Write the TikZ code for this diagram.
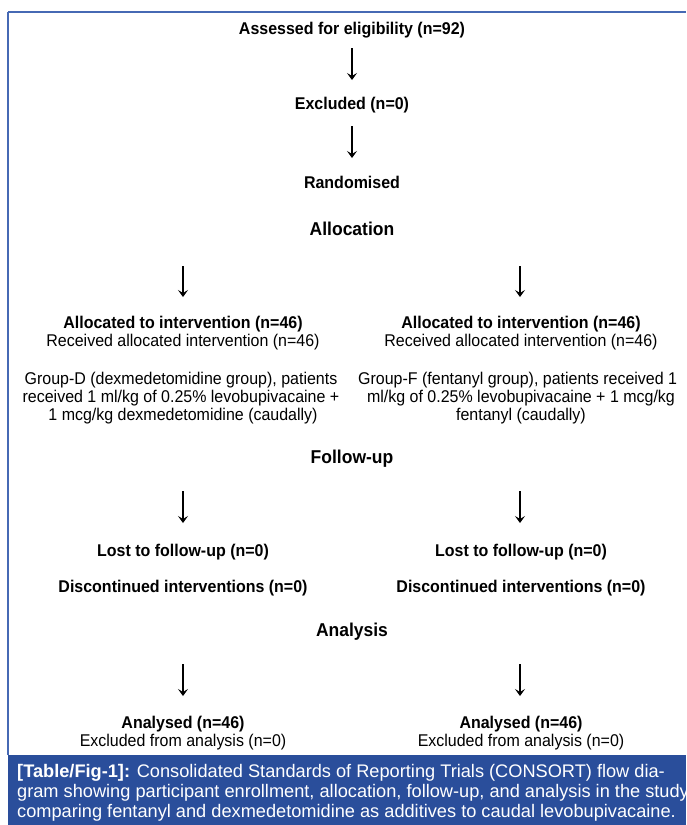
\documentclass[tikz,border=0pt]{standalone}
\usepackage{fontspec}
\setmainfont{Liberation Sans}
\newfontfamily\narrowsans[FakeStretch=0.94]{Liberation Sans}
\usetikzlibrary{arrows.meta}
\definecolor{capblue}{RGB}{42,78,155}
\definecolor{edgeblue}{RGB}{70,105,180}
\tikzset{
  body/.style={inner sep=0pt, anchor=base, font=\narrowsans\fontsize{17}{18}\selectfont},
  bodyb/.style={body, font=\narrowsans\fontsize{17}{18}\selectfont\bfseries},
  section/.style={inner sep=0pt, anchor=base, font=\narrowsans\fontsize{18.6}{20}\selectfont\bfseries},
  caption/.style={inner sep=0pt, anchor=base west, text=white, font=\fontsize{18.2}{20}\selectfont},
  arr/.style={line width=1.5pt, -{Stealth[length=7pt,width=10pt,inset=3pt]}},
}
\begin{document}
\begin{tikzpicture}[x=1pt,y=-1pt]
\useasboundingbox (0,0) rectangle (686,825);
% frame
\draw[edgeblue, line width=1.6pt] (8,12) -- (686,12);
\draw[edgeblue, line width=1.2pt] (8,12) -- (8,755);
\fill[capblue] (8,755) rectangle (686,825);

% top chain
\node[bodyb] (assess) at (352,34) {Assessed for eligibility (n=92)};
\coordinate (a1s) at (352,48);
\coordinate (a1e) at (352,80);
\node[bodyb] (excl) at (352,109) {Excluded (n=0)};
\coordinate (a2s) at (352,126);
\coordinate (a2e) at (352,158);
\node[bodyb] (rand) at (352,188) {Randomised};
\node[section] (alloc) at (352,235) {Allocation};

\draw[arr] (a1s) -- (a1e);
\draw[arr] (a2s) -- (a2e);

% allocation arrows
\coordinate (lal1) at (183,266);
\coordinate (lal2) at (183,297);
\coordinate (ral1) at (520,266);
\coordinate (ral2) at (520,297);
\draw[arr] (lal1) -- (lal2);
\draw[arr] (ral1) -- (ral2);

% left allocation
\node[bodyb] (lalloc) at (183,328) {Allocated to intervention (n=46)};
\node[body] (lrec) at (183,346) {Received allocated intervention (n=46)};
\node[body] (gd1) at (181,384) {Group-D (dexmedetomidine group), patients};
\node[body] (gd2) at (181,402) {received 1 ml/kg of 0.25\% levobupivacaine +};
\node[body] (gd3) at (183,420) {1 mcg/kg dexmedetomidine (caudally)};

% right allocation
\node[bodyb] (ralloc) at (521,328) {Allocated to intervention (n=46)};
\node[body] (rrec) at (521,346) {Received allocated intervention (n=46)};
\node[body, anchor=base west] (gf1) at (358,384) {Group-F (fentanyl group), patients received 1};
\node[body] (gf2) at (521,402) {ml/kg of 0.25\% levobupivacaine + 1 mcg/kg};
\node[body] (gf3) at (521,420) {fentanyl (caudally)};

% follow-up
\node[section] (follow) at (352,463) {Follow-up};
\coordinate (lf1) at (183,491);
\coordinate (lf2) at (183,523);
\coordinate (rf1) at (520,491);
\coordinate (rf2) at (520,523);
\draw[arr] (lf1) -- (lf2);
\draw[arr] (rf1) -- (rf2);
\node[bodyb] (llost) at (183,556) {Lost to follow-up (n=0)};
\node[bodyb] (rlost) at (521,556) {Lost to follow-up (n=0)};
\node[bodyb] (ldisc) at (183,592) {Discontinued interventions (n=0)};
\node[bodyb] (rdisc) at (521,592) {Discontinued interventions (n=0)};

% analysis
\node[section] (analysis) at (352,636) {Analysis};
\coordinate (ln1) at (183,664);
\coordinate (ln2) at (183,696);
\coordinate (rn1) at (520,664);
\coordinate (rn2) at (520,696);
\draw[arr] (ln1) -- (ln2);
\draw[arr] (rn1) -- (rn2);
\node[bodyb] (lanal) at (183,728) {Analysed (n=46)};
\node[body] (lexc) at (183,746) {Excluded from analysis (n=0)};
\node[bodyb] (ranal) at (521,728) {Analysed (n=46)};
\node[body] (rexc) at (521,746) {Excluded from analysis (n=0)};

% caption
\node[caption] (cap1) at (17,777) {\textbf{[Table/Fig-1]:} Consolidated Standards of Reporting Trials (CONSORT) flow dia-};
\node[caption] (cap2) at (17,797) {gram showing participant enrollment, allocation, follow-up, and analysis in the study};
\node[caption] (cap3) at (17,817) {comparing fentanyl and dexmedetomidine as additives to caudal levobupivacaine.};
\end{tikzpicture}
\end{document}
